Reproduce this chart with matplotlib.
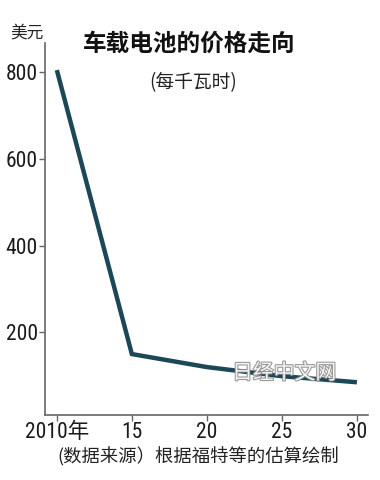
import matplotlib.pyplot as plt
import matplotlib.patheffects as pe
from matplotlib import font_manager

years = [2010, 2015, 2020, 2025, 2030]
prices = [805, 150, 120, 99, 85]
xtick_vals = [2010, 2015, 2020, 2025, 2030]
xtick_labels = ['2010年', '15', '20', '25', '30']
ytick_vals = [200, 400, 600, 800]

cjk = 'Noto Sans CJK SC'
installed = set(f.name for f in font_manager.fontManager.ttflist)
narrow = [n for n in ['Roboto Condensed', 'PT Sans Narrow', 'Archivo Narrow', 'Open Sans Condensed',
                      'Fira Sans Condensed', 'Liberation Sans Narrow'] if n in installed]
num = narrow[:1] + [cjk]

fig = plt.figure(figsize=(3.8, 4.8), dpi=100)
ax = fig.add_axes([0.118, 0.135, 0.85, 0.775])

ax.plot(years, prices, color='#1c4756', lw=3.2, solid_joinstyle='miter', solid_capstyle='butt')

ax.set_xlim(2009.2, 2030.73)
ax.set_ylim(9, 867)
ax.set_xticks(xtick_vals)
ax.set_xticklabels(xtick_labels, family=num, fontsize=15.5)
ax.set_yticks(ytick_vals)
ax.set_yticklabels([str(v) for v in ytick_vals], family=num, fontsize=15.5)

for s in ['top', 'right']:
    ax.spines[s].set_visible(False)
for s in ['left', 'bottom']:
    ax.spines[s].set_color('#666666')
    ax.spines[s].set_linewidth(1.2)
ax.tick_params(direction='out', length=4, width=1, color='#666666', pad=1, labelcolor='#1a1a1a')

fig.text(0.497, 0.91, '车载电池的价格走向', family=cjk, fontsize=17, fontweight='bold',
         ha='center', va='center', color='#111111')
fig.text(0.508, 0.827, '(每千瓦时)', family=cjk, fontsize=13.5, ha='center', va='center', color='#222222')
fig.text(0.071, 0.931, '美元', family=cjk, fontsize=12, ha='center', va='center', color='#222222')
fig.text(0.522, 0.049, '(数据来源）根据福特等的估算绘制', family=cjk, fontsize=13.2,
         ha='center', va='center', color='#222222')

wm = fig.text(0.748, 0.223, '日经中文网', family=cjk, fontsize=15, ha='center', va='center',
              color='white', alpha=0.9)
wm.set_path_effects([pe.withStroke(linewidth=1.5, foreground='#8a8a8a')])

fig.savefig('out.png', dpi=100, facecolor='white')
